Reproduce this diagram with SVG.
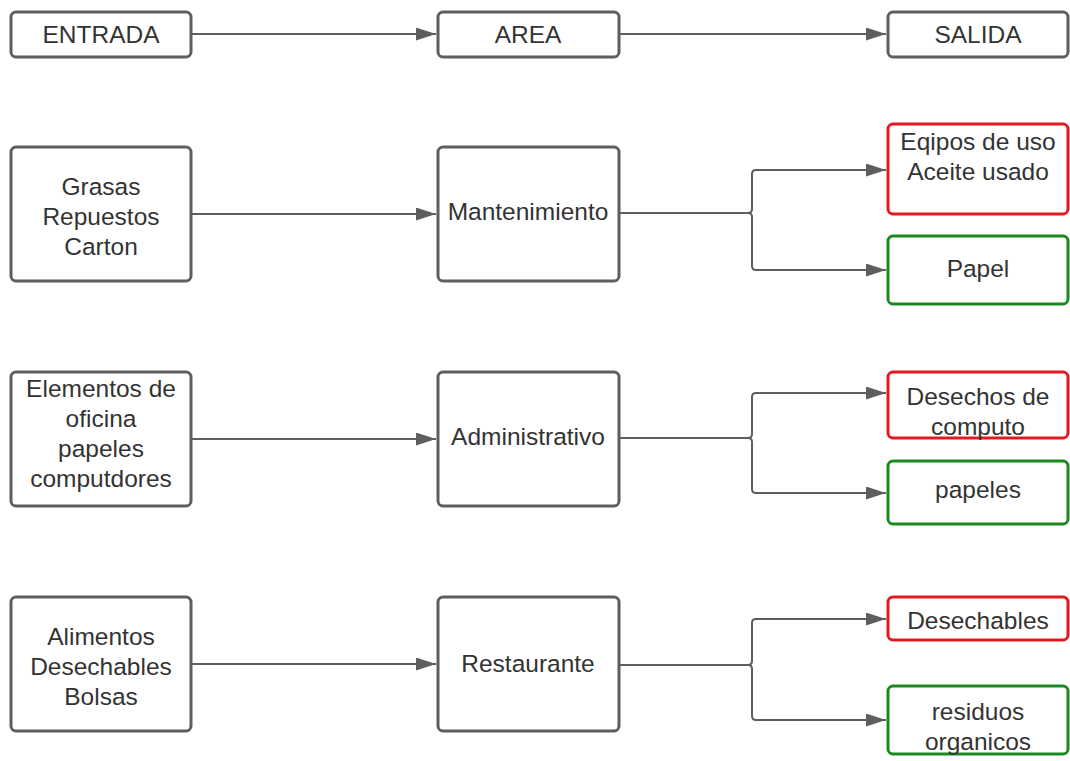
<svg xmlns="http://www.w3.org/2000/svg" width="1070" height="761" viewBox="0 0 1070 761">
<style>
.n{fill:#fff;stroke:#5e5e5e;stroke-width:3}
.r{fill:#fff;stroke:#e3191c;stroke-width:3}
.g{fill:#fff;stroke:#1b8a1e;stroke-width:3}
text{font-family:"Liberation Sans",Arial,sans-serif;font-size:24.5px;fill:#333;text-anchor:middle}
.c{fill:none;stroke:#5e5e5e;stroke-width:2}
</style>
<defs>
<marker id="a" markerWidth="20" markerHeight="13" refX="20" refY="6.5" orient="auto" markerUnits="userSpaceOnUse">
<path d="M0,0 L20,6.5 L0,13 Z" fill="#5e5e5e"/>
</marker>
</defs>
<rect width="1070" height="761" fill="#fff"/>
<g id="connectors">
<path class="c" d="M191,34 H436" marker-end="url(#a)"/>
<path class="c" d="M619,34 H886" marker-end="url(#a)"/>
<path class="c" d="M191,214 H436" marker-end="url(#a)"/>
<path class="c" d="M191,439 H436" marker-end="url(#a)"/>
<path class="c" d="M191,664 H436" marker-end="url(#a)"/>
<path class="c" d="M619,213 H748 Q752,213 752,209 V174 Q752,170 756,170 H886" marker-end="url(#a)"/>
<path class="c" d="M748,213 Q752,213 752,217 V266 Q752,270 756,270 H886" marker-end="url(#a)"/>
<path class="c" d="M619,438 H748 Q752,438 752,434 V397 Q752,393 756,393 H886" marker-end="url(#a)"/>
<path class="c" d="M748,438 Q752,438 752,442 V489 Q752,493 756,493 H886" marker-end="url(#a)"/>
<path class="c" d="M619,665 H748 Q752,665 752,661 V623 Q752,619 756,619 H886" marker-end="url(#a)"/>
<path class="c" d="M748,665 Q752,665 752,669 V716 Q752,720 756,720 H886" marker-end="url(#a)"/>
</g>
<g id="entrada"><rect class="n" x="11" y="12" width="180" height="45" rx="5"/><text x="101" y="43">ENTRADA</text></g>
<g id="area"><rect class="n" x="438" y="12" width="181" height="45" rx="5"/><text x="528" y="43">AREA</text></g>
<g id="salida"><rect class="n" x="888" y="12" width="180" height="45" rx="5"/><text x="978" y="43">SALIDA</text></g>

<g id="in1"><rect class="n" x="11" y="147" width="180" height="134" rx="5"/><text x="101" y="195">Grasas</text><text x="101" y="225">Repuestos</text><text x="101" y="255">Carton</text></g>
<g id="mantenimiento"><rect class="n" x="438" y="147" width="181" height="134" rx="5"/><text x="528" y="220">Mantenimiento</text></g>
<g id="out1a"><rect class="r" x="888" y="124" width="180" height="90" rx="5"/><text x="978" y="150">Eqipos de uso</text><text x="978" y="180">Aceite usado</text></g>
<g id="out1b"><rect class="g" x="888" y="236" width="180" height="68" rx="5"/><text x="978" y="277">Papel</text></g>

<g id="in2"><rect class="n" x="11" y="372" width="180" height="134" rx="5"/><text x="101" y="397">Elementos de</text><text x="101" y="427">oficina</text><text x="101" y="457">papeles</text><text x="101" y="487">computdores</text></g>
<g id="administrativo"><rect class="n" x="438" y="372" width="181" height="134" rx="5"/><text x="528" y="445">Administrativo</text></g>
<g id="out2a"><rect class="r" x="888" y="372" width="180" height="66" rx="5"/><text x="978" y="405">Desechos de</text><text x="978" y="435">computo</text></g>
<g id="out2b"><rect class="g" x="888" y="461" width="180" height="63" rx="5"/><text x="978" y="498">papeles</text></g>

<g id="in3"><rect class="n" x="11" y="597" width="180" height="134" rx="5"/><text x="101" y="645">Alimentos</text><text x="101" y="675">Desechables</text><text x="101" y="705">Bolsas</text></g>
<g id="restaurante"><rect class="n" x="438" y="597" width="181" height="134" rx="5"/><text x="528" y="672">Restaurante</text></g>
<g id="out3a"><rect class="r" x="888" y="597" width="180" height="43" rx="5"/><text x="978" y="629">Desechables</text></g>
<g id="out3b"><rect class="g" x="888" y="686" width="180" height="68" rx="5"/><text x="978" y="720">residuos</text><text x="978" y="750">organicos</text></g>
</svg>
